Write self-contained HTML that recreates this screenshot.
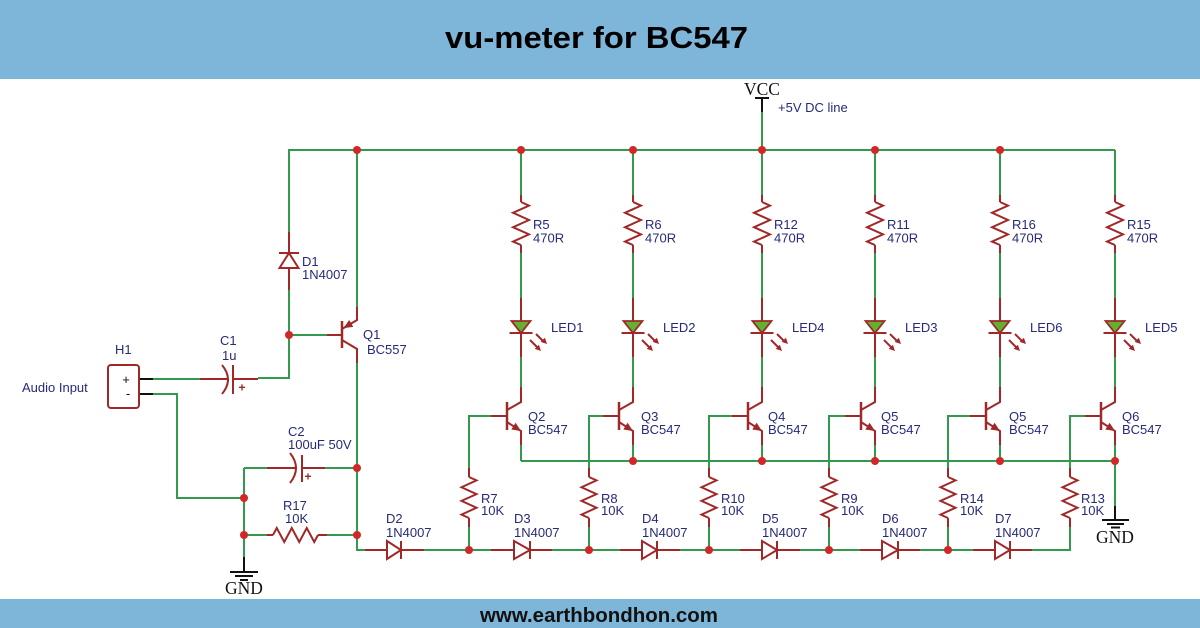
<!DOCTYPE html>
<html><head><meta charset="utf-8"><style>
html,body{margin:0;padding:0;background:#fff;}
svg{display:block;}
.w{stroke:#33994c;stroke-width:2;fill:none;}
.r{stroke:#a02828;stroke-width:2;fill:none;}
.k{stroke:#111;stroke-width:2;fill:none;}
.t{font-family:"Liberation Sans",Arial,sans-serif;font-size:13px;fill:#262a78;}
.s{font-family:"Liberation Serif","Times New Roman",serif;font-size:17.5px;fill:#111;}
.d{fill:#d42626;}
</style></head><body>
<svg width="1200" height="628" viewBox="0 0 1200 628" xmlns="http://www.w3.org/2000/svg">
<rect x="0" y="0" width="1200" height="628" fill="#fff"/>
<rect x="0" y="0" width="1200" height="79" fill="#7eb6d9"/>
<rect x="0" y="599" width="1200" height="29" fill="#7eb6d9"/>
<text x="445" y="48" font-family="Liberation Sans,Arial,sans-serif" font-weight="bold" font-size="31" fill="#000" textLength="303" lengthAdjust="spacingAndGlyphs">vu-meter for BC547</text>
<text x="480" y="622" font-family="Liberation Sans,Arial,sans-serif" font-weight="bold" font-size="20" fill="#111" textLength="238" lengthAdjust="spacingAndGlyphs">www.earthbondhon.com</text>

<!-- green wires -->
<g class="w">
<path d="M289,232 V150 H1115"/>
<path d="M762,112 V150"/>
<path d="M357,150 V307"/>
<path d="M289,290 V378 H258"/>
<path d="M289,335 H327"/>
<path d="M153,379 H200"/>
<path d="M153,394 H177 V498 H244"/>
<path d="M357,363 V550 H365"/>
<path d="M244,468 H267"/>
<path d="M325,468 H357"/>
<path d="M244,468 V557"/>
<path d="M244,535 H267"/>
<path d="M327,535 H357"/>
<path d="M357,550 H1070 V527"/>
<path d="M521,461 H1115 V506"/>
<!-- columns -->
<path d="M521,150 V195 M521,253 V298 M521,357 V387 M521,445 V461"/>
<path d="M633,150 V195 M633,253 V298 M633,357 V387 M633,445 V461"/>
<path d="M762,150 V195 M762,253 V298 M762,357 V387 M762,445 V461"/>
<path d="M875,150 V195 M875,253 V298 M875,357 V387 M875,445 V461"/>
<path d="M1000,150 V195 M1000,253 V298 M1000,357 V387 M1000,445 V461"/>
<path d="M1115,150 V195 M1115,253 V298 M1115,357 V387 M1115,445 V461"/>
<!-- base wires -->
<path d="M491,416 H469 V468 M469,527 V550"/>
<path d="M603,416 H589 V468 M589,527 V550"/>
<path d="M732,416 H709 V468 M709,527 V550"/>
<path d="M845,416 H829 V468 M829,527 V550"/>
<path d="M970,416 H948 V468 M948,527 V550"/>
<path d="M1085,416 H1070 V468"/>
</g>

<!-- black parts -->
<g class="k">
<path d="M762,98 V112 M755,98 H769"/>
<path d="M139,379 H153 M139,394 H153"/>
<path d="M244,557 V572 M230,572 H258 M235,576 H253 M240,580 H248"/>
<path d="M1115,506 V520 M1102,520 H1129 M1107,524 H1124 M1111,527.5 H1120"/>
</g>

<!-- H1 box -->
<rect x="108" y="365" width="31" height="43" rx="3" ry="3" fill="#fff" stroke="#a02828" stroke-width="2"/>

<!-- red components -->
<g class="r">
<!-- D1 -->
<path d="M289,232 V253 M289,268 V290"/>
<polygon points="279.5,268 298.5,268 289,253" fill="#fff"/>
<path d="M279,253 H299"/>
<!-- Q1 -->
<path d="M327,335 H342"/>
<path d="M342,321 V348" stroke-width="2.5"/>
<path d="M357,307 V320 L342,329"/>
<path d="M342,340 L357,349 V363"/>
<!-- C1 -->
<path d="M200,379 H228 M233,379 H258"/>
<path d="M222,365 Q234,379.5 222,394"/>
<path d="M233,365 V394"/>
<!-- C2 -->
<path d="M267,468 H296 M302,468 H325"/>
<path d="M290,453 Q302,468 290,483"/>
<path d="M302,455 V482"/>
<!-- R17 -->
<path d="M267,535 H273 M318,535 H327"/>
<polyline points="273,535 276.75,528 284.25,542 291.75,528 299.25,542 306.75,528 314.25,542 318,535"/>
<!-- D2 -->
<path d="M365,550 H387 M401,550 H424"/>
<polygon points="387,541 387,559 401,550" fill="#fff"/>
<path d="M401,541 V559"/>
<!-- D3 -->
<path d="M491,550 H514 M530,550 H552"/>
<polygon points="514,541 514,559 530,550" fill="#fff"/>
<path d="M530,541 V559"/>
<!-- D4 -->
<path d="M620,550 H642 M657,550 H680"/>
<polygon points="642,541 642,559 657,550" fill="#fff"/>
<path d="M657,541 V559"/>
<!-- D5 -->
<path d="M740,550 H762 M777,550 H800"/>
<polygon points="762,541 762,559 777,550" fill="#fff"/>
<path d="M777,541 V559"/>
<!-- D6 -->
<path d="M860,550 H882 M898,550 H920"/>
<polygon points="882,541 882,559 898,550" fill="#fff"/>
<path d="M898,541 V559"/>
<!-- D7 -->
<path d="M973,550 H995 M1010,550 H1032"/>
<polygon points="995,541 995,559 1010,550" fill="#fff"/>
<path d="M1010,541 V559"/>
</g>
<!-- Q1 arrow -->
<polygon points="343.5,328.1 349.2,320.0 353.3,326.9" fill="#a02828"/>
<!-- + signs -->
<text x="242" y="391.5" text-anchor="middle" font-family="Liberation Sans,Arial,sans-serif" font-weight="bold" font-size="12" fill="#a02828">+</text>
<text x="308" y="480.5" text-anchor="middle" font-family="Liberation Sans,Arial,sans-serif" font-weight="bold" font-size="12" fill="#a02828">+</text>

<!-- column template instances -->
<g id="col0" transform="translate(521,0)">
<g class="r">
<path d="M0,195 V202 M0,245 V253"/>
<polyline points="0,202 8,205.6 -8,212.8 8,220 -8,227.2 8,234.4 -8,241.6 0,245"/>
<path d="M0,298 V321 M0,333 V357"/>
<path d="M-11.5,333 H11.5"/>
<path d="M15,334 L23,342 M9,340 L17,348"/>
<path d="M0,387 V402 L-14,410"/>
<path d="M-14,402 V430" stroke-width="2.5"/>
<path d="M-14,422 L0,431 V445"/>
<path d="M-30,416 H-14"/>
</g>
<polygon points="-9.5,321 9.5,321 0,333" fill="#62b232" stroke="#a02828" stroke-width="1.8"/>
<polygon points="26,344 19.7,341.9 23.9,337.7" fill="#a02828"/>
<polygon points="20,351 13.7,348.9 17.9,344.7" fill="#a02828"/>
<polygon points="0,431 -9.73,429.49 -5.41,422.77" fill="#a02828"/>
</g>
<use href="#col0" transform="translate(112,0)"/>
<use href="#col0" transform="translate(241,0)"/>
<use href="#col0" transform="translate(354,0)"/>
<use href="#col0" transform="translate(479,0)"/>
<use href="#col0" transform="translate(594,0)"/>

<!-- bottom resistors -->
<g id="br0" class="r" transform="translate(469,0)">
<path d="M0,468 V477 M0,518 V527"/>
<polyline points="0,477 7.5,480.4 -7.5,487.25 7.5,494.1 -7.5,500.9 7.5,507.75 -7.5,514.6 0,518"/>
</g>
<use href="#br0" transform="translate(120,0)"/>
<use href="#br0" transform="translate(240,0)"/>
<use href="#br0" transform="translate(360,0)"/>
<use href="#br0" transform="translate(479,0)"/>
<use href="#br0" transform="translate(601,0)"/>

<!-- junction dots -->
<g class="d">
<circle cx="357" cy="150" r="4"/>
<circle cx="521" cy="150" r="4"/>
<circle cx="633" cy="150" r="4"/>
<circle cx="762" cy="150" r="4"/>
<circle cx="875" cy="150" r="4"/>
<circle cx="1000" cy="150" r="4"/>
<circle cx="289" cy="335" r="4"/>
<circle cx="357" cy="468" r="4"/>
<circle cx="244" cy="498" r="4"/>
<circle cx="244" cy="535" r="4"/>
<circle cx="357" cy="535" r="4"/>
<circle cx="469" cy="550" r="4"/>
<circle cx="589" cy="550" r="4"/>
<circle cx="709" cy="550" r="4"/>
<circle cx="829" cy="550" r="4"/>
<circle cx="948" cy="550" r="4"/>
<circle cx="633" cy="461" r="4"/>
<circle cx="762" cy="461" r="4"/>
<circle cx="875" cy="461" r="4"/>
<circle cx="1000" cy="461" r="4"/>
<circle cx="1115" cy="461" r="4"/>
</g>

<!-- text labels -->
<text class="s" x="762" y="95" text-anchor="middle">VCC</text>
<text class="t" x="778" y="112">+5V DC line</text>
<text class="s" x="244" y="594" text-anchor="middle">GND</text>
<text class="s" x="1115" y="543" text-anchor="middle">GND</text>

<text class="t" x="22" y="392">Audio Input</text>
<text class="t" x="115" y="354">H1</text>
<text x="126" y="384" text-anchor="middle" font-family="Liberation Sans,Arial,sans-serif" font-size="13" fill="#111">+</text>
<text x="128" y="398" text-anchor="middle" font-family="Liberation Sans,Arial,sans-serif" font-size="13" fill="#111">-</text>
<text class="t" x="220" y="345">C1</text>
<text class="t" x="222" y="360">1u</text>
<text class="t" x="302" y="266">D1</text>
<text class="t" x="302" y="279">1N4007</text>
<text class="t" x="363" y="339">Q1</text>
<text class="t" x="367" y="354">BC557</text>
<text class="t" x="288" y="436">C2</text>
<text class="t" x="288" y="449">100uF 50V</text>
<text class="t" x="283" y="510">R17</text>
<text class="t" x="285" y="523">10K</text>
<text class="t" x="386" y="523">D2</text>
<text class="t" x="386" y="537">1N4007</text>

<text class="t" x="533" y="229">R5</text><text class="t" x="533" y="242.5">470R</text>
<text class="t" x="645" y="229">R6</text><text class="t" x="645" y="242.5">470R</text>
<text class="t" x="774" y="229">R12</text><text class="t" x="774" y="242.5">470R</text>
<text class="t" x="887" y="229">R11</text><text class="t" x="887" y="242.5">470R</text>
<text class="t" x="1012" y="229">R16</text><text class="t" x="1012" y="242.5">470R</text>
<text class="t" x="1127" y="229">R15</text><text class="t" x="1127" y="242.5">470R</text>

<text class="t" x="551" y="332">LED1</text>
<text class="t" x="663" y="332">LED2</text>
<text class="t" x="792" y="332">LED4</text>
<text class="t" x="905" y="332">LED3</text>
<text class="t" x="1030" y="332">LED6</text>
<text class="t" x="1145" y="332">LED5</text>

<text class="t" x="528" y="421">Q2</text><text class="t" x="528" y="434">BC547</text>
<text class="t" x="641" y="421">Q3</text><text class="t" x="641" y="434">BC547</text>
<text class="t" x="768" y="421">Q4</text><text class="t" x="768" y="434">BC547</text>
<text class="t" x="881" y="421">Q5</text><text class="t" x="881" y="434">BC547</text>
<text class="t" x="1009" y="421">Q5</text><text class="t" x="1009" y="434">BC547</text>
<text class="t" x="1122" y="421">Q6</text><text class="t" x="1122" y="434">BC547</text>

<text class="t" x="481" y="503">R7</text><text class="t" x="481" y="515">10K</text>
<text class="t" x="601" y="503">R8</text><text class="t" x="601" y="515">10K</text>
<text class="t" x="721" y="503">R10</text><text class="t" x="721" y="515">10K</text>
<text class="t" x="841" y="503">R9</text><text class="t" x="841" y="515">10K</text>
<text class="t" x="960" y="503">R14</text><text class="t" x="960" y="515">10K</text>
<text class="t" x="1081" y="503">R13</text><text class="t" x="1081" y="515">10K</text>

<text class="t" x="514" y="523">D3</text><text class="t" x="514" y="537">1N4007</text>
<text class="t" x="642" y="523">D4</text><text class="t" x="642" y="537">1N4007</text>
<text class="t" x="762" y="523">D5</text><text class="t" x="762" y="537">1N4007</text>
<text class="t" x="882" y="523">D6</text><text class="t" x="882" y="537">1N4007</text>
<text class="t" x="995" y="523">D7</text><text class="t" x="995" y="537">1N4007</text>
</svg>
</body></html>
